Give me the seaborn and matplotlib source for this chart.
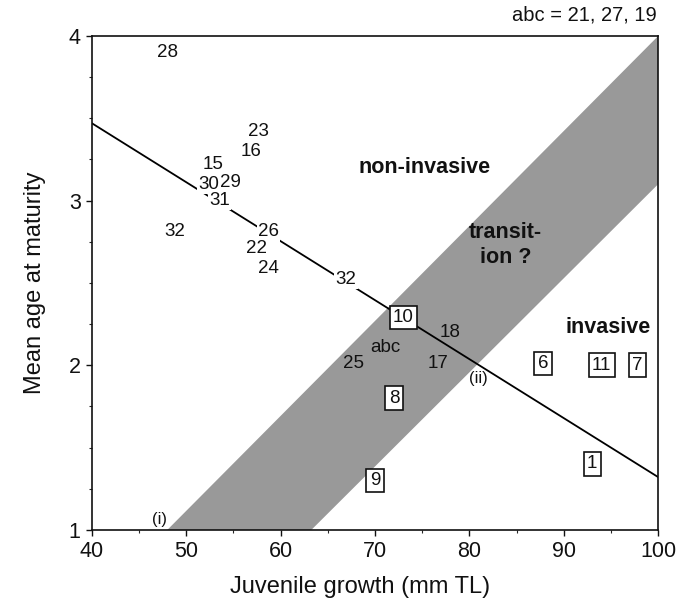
import matplotlib
matplotlib.use("Agg")
import matplotlib.pyplot as plt
import seaborn as sns
import numpy as np
import pandas as pd

# ---- data ----
plain_labels = ["28", "23", "16", "15", "30", "29", "31", "32", "26", "22", "24", "32", "18", "abc", "25", "17"]
plain_x = [48.0, 57.7, 56.9, 52.8, 52.4, 54.7, 53.5, 48.8, 58.7, 57.4, 58.7, 66.9, 77.9, 71.1, 67.7, 76.7]
plain_y = [3.90, 3.42, 3.30, 3.22, 3.10, 3.11, 3.00, 2.81, 2.81, 2.71, 2.59, 2.52, 2.20, 2.11, 2.01, 2.01]

boxed_labels = ["10", "6", "11", "7", "8", "1", "9"]
boxed_x = [73.0, 87.8, 94.0, 97.8, 72.0, 93.0, 70.0]
boxed_y = [2.29, 2.01, 2.00, 2.00, 1.80, 1.40, 1.30]

line_x = [40, 100]
line_y = [3.47, 1.32]

band_x = [40, 100]
band_upper = [0.538, 4.0]     # upper edge passes (48,1) and (100,4)
band_lower = [-0.33, 3.10]    # lower edge passes (63.5,1) and (100,3.1)

marks_text = ["(i)", "(ii)"]
marks_x = [47.2, 80.9]
marks_y = [1.06, 1.92]

region_text = ["non-invasive", "transit-\nion ?", "invasive"]
region_x = [75.3, 83.8, 94.7]
region_y = [3.20, 2.73, 2.23]

x_ticks = [40, 50, 60, 70, 80, 90, 100]
y_ticks = [1, 2, 3, 4]

# ---- plot ----
sns.set_theme(style="ticks")
plt.rcParams["font.family"] = ["Liberation Sans", "DejaVu Sans"]

fig = plt.figure(figsize=(6.8, 6.09), dpi=100)
ax = fig.add_axes([0.135, 0.130, 0.833, 0.811])

ax.fill_between(band_x, band_lower, band_upper, color="#999999", linewidth=0, zorder=1)

sns.lineplot(x=line_x, y=line_y, color="black", linewidth=1.3, ax=ax, zorder=2)

df = pd.DataFrame({"x": plain_x, "y": plain_y, "lab": plain_labels})
for _, r in df.iterrows():
    inside = (r.y < np.interp(r.x, band_x, band_upper)) and (r.y > np.interp(r.x, band_x, band_lower))
    bb = None if inside else dict(facecolor="white", edgecolor="none", pad=1.0)
    ax.text(r.x, r.y, r.lab, ha="center", va="center", fontsize=13.5, color="#111111",
            bbox=bb, zorder=3)

for lab, x, y in zip(boxed_labels, boxed_x, boxed_y):
    ax.text(x, y, lab, ha="center", va="center", fontsize=13.5, color="#111111",
            bbox=dict(facecolor="white", edgecolor="#111111", linewidth=1.2,
                      boxstyle="square,pad=0.18"), zorder=4)

for lab, x, y in zip(marks_text, marks_x, marks_y):
    ax.text(x, y, lab, ha="center", va="center", fontsize=12, color="#111111", zorder=3)

for lab, x, y in zip(region_text, region_x, region_y):
    ax.text(x, y, lab, ha="center", va="center", fontsize=15.5, fontweight="bold",
            color="#111111", linespacing=1.2, zorder=3)

ax.set_xlim(40, 100)
ax.set_ylim(1, 4)
ax.set_xticks(x_ticks)
ax.set_yticks(y_ticks)
ax.set_xticks(np.arange(40, 101, 5), minor=True)
ax.set_yticks(np.arange(1, 4.01, 0.25), minor=True)
ax.tick_params(axis="both", which="major", direction="out", length=4, width=1,
               labelsize=15.5, colors="#111111", pad=4)
ax.tick_params(axis="both", which="minor", direction="out", length=2.5, width=0.8)
for s in ax.spines.values():
    s.set_visible(True)
    s.set_color("#111111")
    s.set_linewidth(1.2)

ax.set_xlabel("Juvenile growth (mm TL)", fontsize=17, color="#111111")
ax.xaxis.set_label_coords(0.474, -0.094)
ax.set_ylabel("Mean age at maturity", fontsize=17, labelpad=16, color="#111111")

fig.text(0.966, 0.975, "abc = 21, 27, 19", ha="right", va="center", fontsize=14.5, color="#111111")

fig.savefig("out.png", dpi=100)
